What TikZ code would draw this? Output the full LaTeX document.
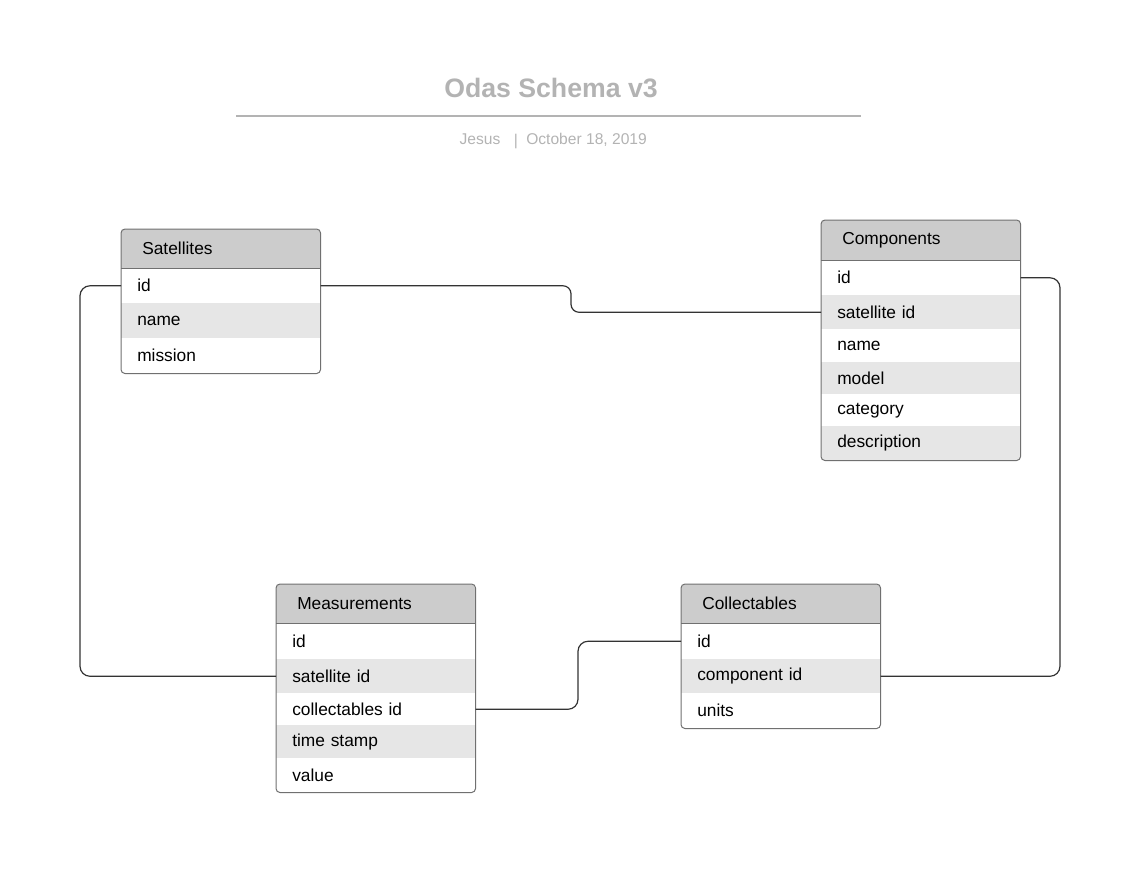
\documentclass[tikz,border=0pt]{standalone}
\usepackage{fontspec}
\setmainfont{Liberation Sans}
\definecolor{hdrgray}{HTML}{CCCCCC}
\definecolor{rowgray}{HTML}{E6E6E6}
\definecolor{framec}{HTML}{707070}
\definecolor{linkc}{HTML}{333333}
\definecolor{titlec}{HTML}{B3B3B3}
\tikzset{
 tbl/.style={rectangle, anchor=north west, minimum width=149.25pt, text width=125.25pt, inner xsep=12pt, inner ysep=0pt, align=left, font=\fontsize{13}{15}\selectfont, text=black},
 hdr/.style={tbl, fill=hdrgray, inner xsep=15.75pt, text width=117.75pt},
 rowA/.style={tbl, fill=white},
 rowB/.style={tbl, fill=rowgray},
 link/.style={draw=linkc, line width=0.9pt, rounded corners=7.5pt},
 frame/.style={draw=framec, line width=0.75pt, rounded corners=3pt},
 sepline/.style={draw=framec, line width=0.75pt},
 subt/.style={font=\fontsize{11.7}{14}\selectfont, text=titlec, inner xsep=0pt},
}
\begin{document}
\begin{tikzpicture}[x=0.75pt,y=-0.75pt]
\useasboundingbox (0,0) rectangle (1140,878);
% title
\node[font=\bfseries\fontsize{20}{24}\selectfont, text=titlec] (title) at (551,88) {Odas Schema v3};
\draw[titlec, line width=1.5pt] (236,116) -- (861,116);
\node[subt, anchor=base] (author) at (480,144) {Jesus};
\node[subt, anchor=base] (bar) at (516,145) {|};
\node[subt, anchor=base west] (date) at (526,144) {October 18, 2019};

% Satellites
\begin{scope}
\clip[rounded corners=3pt] (121,229) rectangle (320,373);
\node[hdr, minimum height=29.25pt] (sath) at (121,229) {Satellites};
\node[rowA, minimum height=26.25pt] (satid) at (121,268) {id};
\node[rowB, minimum height=26.25pt] (satname) at (121,303) {name};
\node[rowA, minimum height=26.25pt] (satmission) at (121,338) {mission};
\end{scope}
\draw[frame] (sath.north west) rectangle (satmission.south east);
\draw[sepline] (sath.south west) -- (sath.south east);

% Components
\begin{scope}
\clip[rounded corners=3pt] (821,220) rectangle (1020,460);
\node[hdr, minimum height=30pt] (comph) at (821,220) {Components};
\node[rowA, minimum height=26.25pt] (compid) at (821,260) {id};
\node[rowB, minimum height=25.5pt] (compsatid) at (821,295) {satellite id};
\node[rowA, minimum height=24.75pt] (compname) at (821,329) {name};
\node[rowB, minimum height=24pt] (compmodel) at (821,362) {model};
\node[rowA, minimum height=24pt] (compcat) at (821,394) {category};
\node[rowB, minimum height=25.5pt] (compdesc) at (821,426) {description};
\end{scope}
\draw[frame] (comph.north west) rectangle (compdesc.south east);
\draw[sepline] (comph.south west) -- (comph.south east);

% Measurements
\begin{scope}
\clip[rounded corners=3pt] (276,584) rectangle (475,792);
\node[hdr, minimum height=29.25pt] (meah) at (276,584) {Measurements};
\node[rowA, minimum height=27pt] (meaid) at (276,623) {id};
\node[rowB, minimum height=25.5pt] (measatid) at (276,659) {satellite id};
\node[rowA, minimum height=24pt] (meacolid) at (276,693) {collectables id};
\node[rowB, minimum height=24.75pt] (meatime) at (276,725) {time stamp};
\node[rowA, minimum height=25.5pt] (meavalue) at (276,758) {value};
\end{scope}
\draw[frame] (meah.north west) rectangle (meavalue.south east);
\draw[sepline] (meah.south west) -- (meah.south east);

% Collectables
\begin{scope}
\clip[rounded corners=3pt] (681,584) rectangle (880,728);
\node[hdr, minimum height=29.25pt] (colh) at (681,584) {Collectables};
\node[rowA, minimum height=27pt] (colid) at (681,623) {id};
\node[rowB, minimum height=25.5pt] (colcompid) at (681,659) {component id};
\node[rowA, minimum height=26.25pt] (colunits) at (681,693) {units};
\end{scope}
\draw[frame] (colh.north west) rectangle (colunits.south east);
\draw[sepline] (colh.south west) -- (colh.south east);

% connectors
\coordinate (b1) at (571,300);
\coordinate (b2) at (80,480);
\coordinate (b3) at (578,675);
\coordinate (b4) at (1060,480);
\draw[link, rounded corners=6pt] (satid.east) -- (satid.east -| b1) -- (compsatid.west -| b1) -- (compsatid.west);
\draw[link] (satid.west) -- (satid.west -| b2) -- (measatid.west -| b2) -- (measatid.west);
\draw[link] (meacolid.east) -- (meacolid.east -| b3) -- (colid.west -| b3) -- (colid.west);
\draw[link] (compid.east) -- (compid.east -| b4) -- (colcompid.east -| b4) -- (colcompid.east);
\end{tikzpicture}
\end{document}
